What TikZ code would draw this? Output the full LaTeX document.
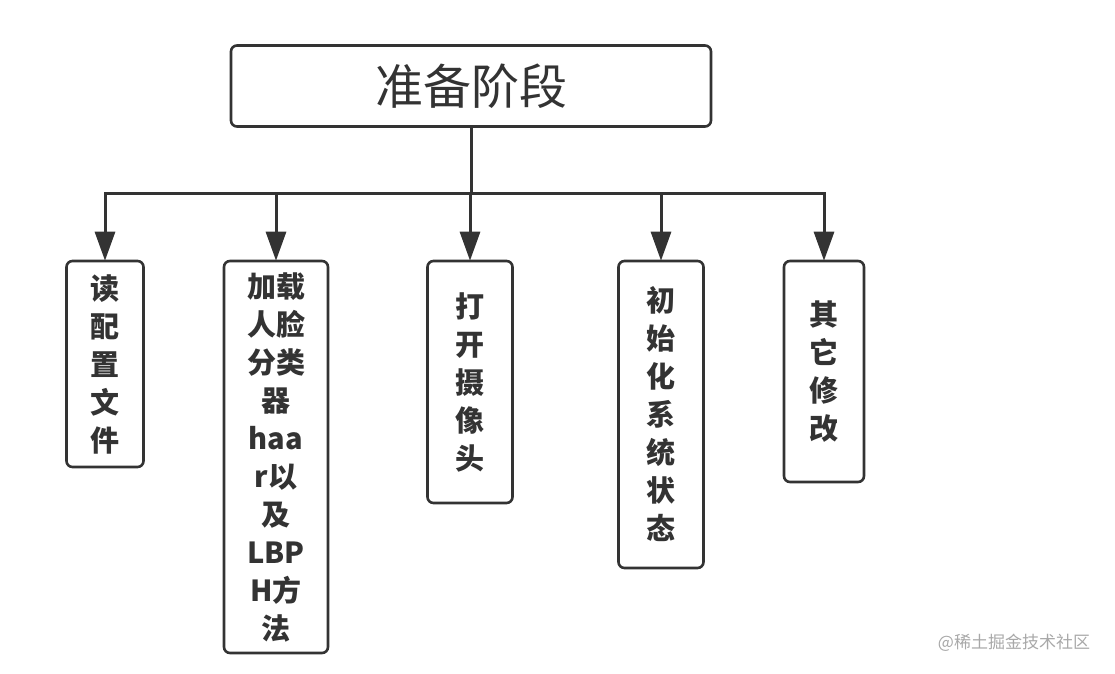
\documentclass[tikz,border=0pt]{standalone}
\usepackage{fontspec}
\newfontfamily\cjk{Noto Sans CJK SC}
\usetikzlibrary{arrows.meta}
\definecolor{ink}{HTML}{333333}
\definecolor{wm}{HTML}{A8A8A8}
\tikzset{
  box/.style={draw=ink, line width=2.6pt, rounded corners=6pt, inner sep=0pt, fill=white},
  child/.style={box, text=ink, align=center, font=\cjk\bfseries\fontsize{29}{38}\selectfont},
  arr/.style={draw=ink, line width=3pt, -{Triangle[length=29pt,width=20pt]}}
}
\begin{document}
\begin{tikzpicture}[x=1pt,y=-1pt]
\useasboundingbox (0,0) rectangle (1115,673);
\node[box, minimum width=480pt, minimum height=81pt, text=ink, font=\cjk\fontsize{48}{56}\selectfont] (top) at (471,86) {准备阶段};
\coordinate (bar) at (471,193);
\node[child, minimum width=77pt, minimum height=206pt] (c1) at (105,364) {读\\配\\置\\文\\件};
\node[child, minimum width=104pt, minimum height=392pt] (c2) at (276,457) {加载\\人脸\\分类\\器\\haa\\r以\\及\\LBP\\H方\\法};
\node[child, minimum width=85pt, minimum height=242pt] (c3) at (470,382) {打\\开\\摄\\像\\头};
\node[child, minimum width=85pt, minimum height=307pt] (c4) at (661,414.5) {初\\始\\化\\系\\统\\状\\态};
\node[child, minimum width=80pt, minimum height=221pt] (c5) at (824,371.5) {其\\它\\修\\改};
\foreach \c in {c1,c2,c3,c4,c5}{
  \draw[arr] (top.south) -- (bar) -| ([yshift=-1pt]\c.north);
}
\node[text=wm, font=\cjk\fontsize{17}{20}\selectfont, anchor=center] (wmark) at (1014,643) {@稀土掘金技术社区};
\end{tikzpicture}
\end{document}
